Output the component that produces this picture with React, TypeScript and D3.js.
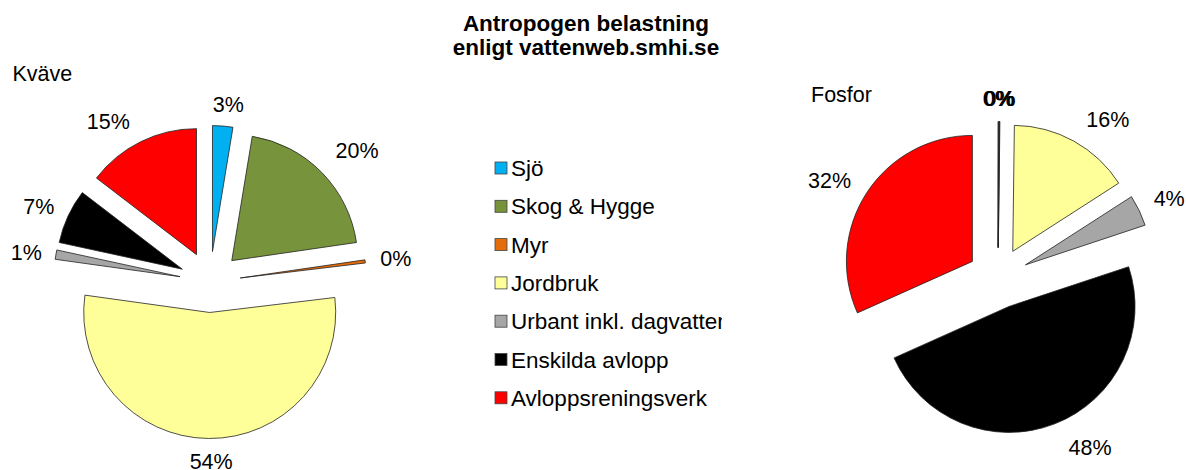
import { useEffect, useRef } from "react";
import * as d3 from "d3";

const categories = [
  "Sjö",
  "Skog & Hygge",
  "Myr",
  "Jordbruk",
  "Urbant inkl. dagvatten",
  "Enskilda avlopp",
  "Avloppsreningsverk",
];
const colors = ["#00b0f0", "#77933c", "#e46c0a", "#ffff99", "#a6a6a6", "#000000", "#ff0000"];
const kvaveValues = [2.6, 20.1, 0.4, 54.1, 1.2, 7.0, 14.6];
const fosforValues = [0.05, 0.1, 0.05, 15.7, 4.0, 48.4, 31.7];
const titleLines = ["Antropogen belastning", "enligt vattenweb.smhi.se"];

// små handjusteringar av etiketterna (som i Excel-originalet)
const kvaveLabelShift: [number, number][] = [[3, 1], [9, -6], [0, 0], [3, 0], [1, 2], [-1, 0], [-16, 0]];
const fosforLabelShift: [number, number][] = [[0, 0], [0, 0], [0, 0], [16, -2], [2, -2], [22, 2], [-6, 0]];

const W = 1186;
const H = 470;
const FONT = "'Liberation Sans', Arial, sans-serif";
const FS = 21.5;
const CAP = FS * 0.716;
const LEG_FS = 22.5;

type PieSpec = {
  name: string;
  values: number[];
  shift: [number, number][];
  cx: number;
  cy: number;
  nameX: number;
  nameY: number;
};

const pies: PieSpec[] = [
  { name: "Kväve", values: kvaveValues, shift: kvaveLabelShift, cx: 210, cy: 282, nameX: 12.5, nameY: 81 },
  { name: "Fosfor", values: fosforValues, shift: fosforLabelShift, cx: 998, cy: 278, nameX: 811, nameY: 102 },
];

export default function App() {
  const ref = useRef<SVGSVGElement>(null);

  useEffect(() => {
    if (!ref.current) return;
    const svg = d3.select(ref.current);
    svg.selectAll("*").remove();

    const radius = 126;
    const explode = 30.5;
    const gap = 15.5;

    const pie = d3
      .pie<number>()
      .value((d: number) => d)
      .sort(null);
    const arc = d3.arc<d3.PieArcDatum<number>>().innerRadius(0).outerRadius(radius);

    // titel
    svg
      .append("text")
      .attr("text-anchor", "middle")
      .style("font-family", FONT)
      .style("font-weight", "bold")
      .style("font-size", "22.5px")
      .selectAll("tspan")
      .data(titleLines)
      .enter()
      .append("tspan")
      .attr("x", 586)
      .attr("y", (_d: string, i: number) => 31 + i * 24)
      .text((d: string) => d);

    pies.forEach((p) => {
      const total = d3.sum(p.values);
      const g = svg.append("g").attr("transform", `translate(${p.cx},${p.cy})`);
      const arcs = pie(p.values);
      const mid = (a: d3.PieArcDatum<number>) => (a.startAngle + a.endAngle) / 2;

      g.selectAll("path")
        .data(arcs)
        .enter()
        .append("path")
        .attr("d", arc)
        .attr("transform", (a: d3.PieArcDatum<number>) => {
          const m = mid(a);
          return `translate(${explode * Math.sin(m)},${-explode * Math.cos(m)})`;
        })
        .attr("fill", (_a: d3.PieArcDatum<number>, i: number) => colors[i])
        .attr("stroke", "#222")
        .attr("stroke-width", 0.8)
        .attr("stroke-linejoin", "round");

      const labels = g
        .selectAll("text.lbl")
        .data(arcs)
        .enter()
        .append("text")
        .attr("class", "lbl")
        .attr("text-anchor", "middle")
        .style("font-family", FONT)
        .style("font-size", `${FS}px`)
        .text((a: d3.PieArcDatum<number>) => `${Math.round((a.data / total) * 100)}%`);

      labels.each(function (this: SVGTextElement, a: d3.PieArcDatum<number>, i: number) {
        const w = this.getComputedTextLength();
        const m = mid(a);
        const sx = Math.sin(m);
        const sy = -Math.cos(m);
        const rr = radius + explode + gap;
        const x = sx * rr + (sx * w) / 2 + p.shift[i][0];
        const y = sy * rr + (sy * CAP) / 2 + p.shift[i][1];
        d3.select(this).attr("x", x).attr("y", y + CAP / 2);
      });

      svg
        .append("text")
        .attr("x", p.nameX)
        .attr("y", p.nameY)
        .style("font-family", FONT)
        .style("font-size", `${FS}px`)
        .text(p.name);
    });

    // legend
    svg
      .append("clipPath")
      .attr("id", "legclip")
      .append("rect")
      .attr("x", 480)
      .attr("y", 140)
      .attr("width", 242)
      .attr("height", 290);

    const leg = svg
      .append("g")
      .attr("clip-path", "url(#legclip)")
      .selectAll("g")
      .data(categories)
      .enter()
      .append("g")
      .attr("transform", (_d: string, i: number) => `translate(495,${168 + i * 38.3})`);

    leg
      .append("rect")
      .attr("x", 0)
      .attr("y", -6)
      .attr("width", 12)
      .attr("height", 12)
      .attr("fill", (_d: string, i: number) => colors[i])
      .attr("stroke", "#444")
      .attr("stroke-width", 0.8);

    leg
      .append("text")
      .attr("x", 16)
      .attr("y", (LEG_FS * 0.716) / 2)
      .style("font-family", FONT)
      .style("font-size", `${LEG_FS}px`)
      .text((d: string) => d);
  }, []);

  return (
    <svg
      ref={ref}
      width={W}
      height={H}
      style={{ position: "absolute", left: 0, top: 0, background: "#fff" }}
    />
  );
}
